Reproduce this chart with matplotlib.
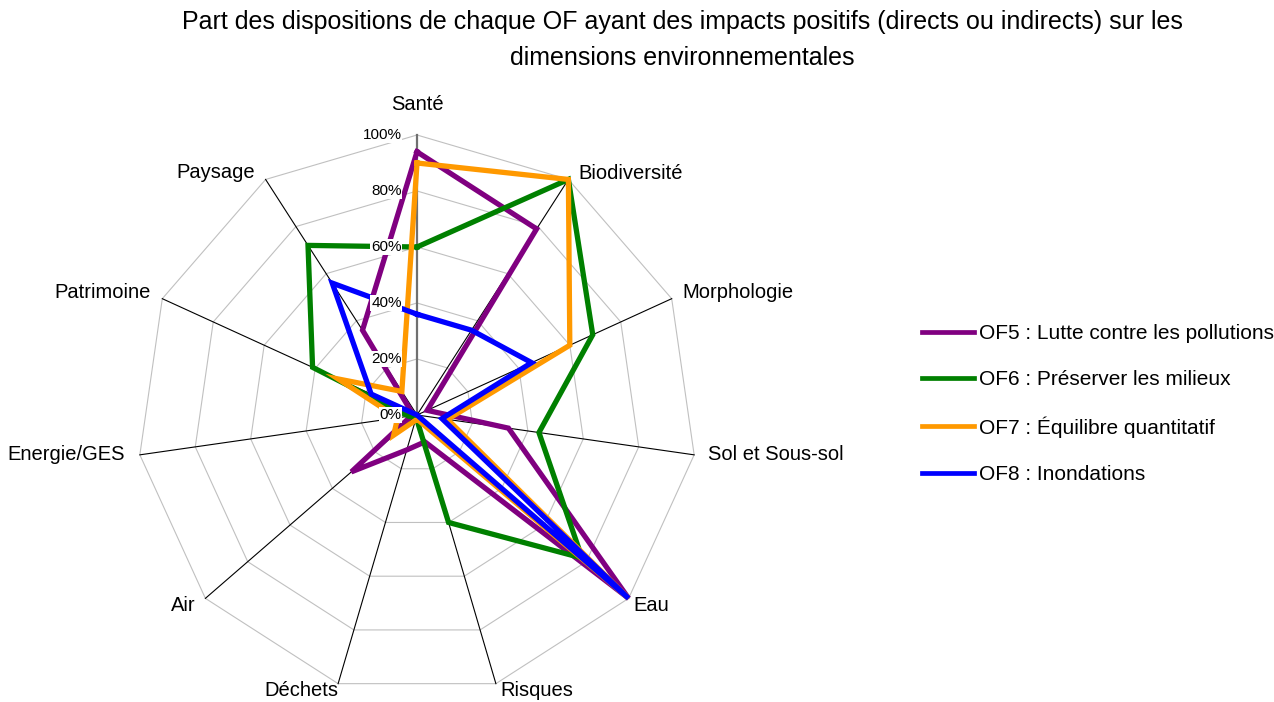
import numpy as np
import matplotlib
matplotlib.use("Agg")
import matplotlib.pyplot as plt

plt.rcParams['font.family'] = ['Liberation Sans', 'DejaVu Sans']

title = ("Part des dispositions de chaque OF ayant des impacts positifs (directs ou indirects) sur les\n"
         "dimensions environnementales")

categories = ['Santé', 'Biodiversité', 'Morphologie', 'Sol et Sous-sol', 'Eau', 'Risques',
              'Déchets', 'Air', 'Energie/GES', 'Patrimoine', 'Paysage']

of5 = [0.94, 0.79, 0.04, 0.33, 1.00, 0.10, 0.13, 0.31, 0.02, 0.02, 0.36]
of6 = [0.60, 1.00, 0.69, 0.44, 0.78, 0.40, 0.01, 0.01, 0.03, 0.41, 0.72]
of7 = [0.90, 1.00, 0.60, 0.11, 1.00, 0.02, 0.02, 0.11, 0.07, 0.31, 0.10]
of8 = [0.36, 0.36, 0.45, 0.09, 1.00, 0.00, 0.00, 0.00, 0.00, 0.18, 0.56]

series_labels = ['OF5 : Lutte contre les pollutions', 'OF6 : Préserver les milieux',
                 'OF7 : Équilibre quantitatif', 'OF8 : Inondations']
series_colors = ['#800080', '#008000', '#FF9900', '#0000FF']

tick_values = [0.0, 0.2, 0.4, 0.6, 0.8, 1.0]
tick_labels = ['0%', '20%', '40%', '60%', '80%', '100%']

n = len(categories)
theta = np.arange(n) * 2 * np.pi / n
theta_c = np.append(theta, theta[0])

W, H = 1274, 702
fig = plt.figure(figsize=(W / 100, H / 100), dpi=100)
cx, cy, R = 417, 415, 280
ax = fig.add_axes([(cx - R) / W, (H - cy - R) / H, 2 * R / W, 2 * R / H], projection='polar')
ax.set_theta_offset(np.pi / 2)
ax.set_theta_direction(-1)
ax.set_ylim(0, 1)
ax.set_xticks([])
ax.set_yticks([])
ax.grid(False)
ax.spines['polar'].set_visible(False)
ax.patch.set_visible(False)

# polygon grid
for r in tick_values[1:]:
    ax.plot(theta_c, [r] * (n + 1), color='#c0c0c0', lw=0.8, zorder=1, clip_on=False)
# spokes
for i, t in enumerate(theta):
    if i == 0:
        ax.plot([t, t], [0, 1], color='#707070', lw=1.6, zorder=1.5, clip_on=False)
    else:
        ax.plot([t, t], [0, 1], color='black', lw=0.8, zorder=1.5, clip_on=False)

# data
for vals, lab, col in zip([of5, of6, of7, of8], series_labels, series_colors):
    v = np.append(vals, vals[0])
    ax.plot(theta_c, v, color=col, lw=3.8, label=lab, zorder=3, clip_on=False,
            solid_joinstyle='miter')

# radial tick labels
for v, lab in zip(tick_values, tick_labels):
    ax.annotate(lab, xy=(0, v), xytext=(-11, 0), textcoords='offset points',
                ha='right', va='center', fontsize=11, zorder=5, annotation_clip=False,
                bbox=dict(fc='white', ec='none', pad=0.5))

# category labels: (ha, offset_x px, offset_y px)
label_pos = [('center', 0, 30), ('left', 10, 6), ('left', 11, 6), ('left', 14, 0),
             ('left', 5, -7), ('left', 4, -7), ('right', 0, -7), ('right', -10, -7),
             ('right', -15, 0), ('right', -12, 6), ('right', -11, 7)]
for t, cat, (ha, ox, oy) in zip(theta, categories, label_pos):
    ax.annotate(cat, xy=(t, 1.0), xytext=(ox * 0.72, oy * 0.72), textcoords='offset points',
                ha=ha, va='center', fontsize=14.5, annotation_clip=False)

fig.text(682 / W, 1 - 40 / H, title, ha='center', va='center', fontsize=18,
         linespacing=1.6)

leg = fig.legend(loc='center left', bbox_to_anchor=(922 / W, 1 - 404 / H), frameon=False,
                 fontsize=15, handlelength=2.5, handletextpad=0.25, labelspacing=1.3,
                 borderpad=0, borderaxespad=0)
for h in leg.get_lines():
    h.set_linewidth(3.4)

fig.savefig('out.png', dpi=100)
